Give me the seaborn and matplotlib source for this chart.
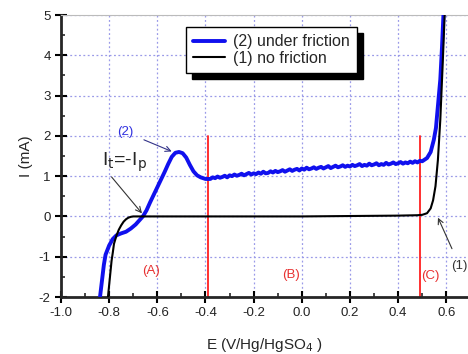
import numpy as np
import pandas as pd
import seaborn as sns
import matplotlib.pyplot as plt
from matplotlib.ticker import MultipleLocator, FormatStrFormatter

sns.set_style('ticks')
plt.rcParams['font.family'] = ['Liberation Sans', 'DejaVu Sans']
plt.rcParams['axes.unicode_minus'] = False

# curve (1): no friction
e_nofric = [-0.805, -0.80, -0.795, -0.79, -0.785, -0.78, -0.77, -0.76, -0.75, -0.74,
            -0.73, -0.72, -0.71, -0.70, -0.65, -0.5, -0.3, 0.0, 0.2, 0.4,
            0.48, 0.50, 0.52, 0.535, 0.545, 0.555, 0.565, 0.575, 0.585, 0.593, 0.596]
i_nofric = [-2.0, -1.7, -1.4, -1.1, -0.9, -0.68, -0.48, -0.33, -0.22, -0.13,
            -0.07, -0.03, -0.01, 0.0, 0.0, 0.0, 0.0, 0.0, 0.01, 0.02,
            0.03, 0.04, 0.08, 0.2, 0.4, 0.75, 1.4, 2.4, 3.8, 5.0, 5.3]

# curve (2): under friction (noisy plateau read point by point)
e_fric = [-0.838, -0.83, -0.822, -0.815, -0.80, -0.785, -0.77, -0.75, -0.73, -0.71,
          -0.69, -0.675, -0.66, -0.645, -0.63, -0.61, -0.59, -0.57, -0.555, -0.54,
          -0.525, -0.51, -0.495, -0.48, -0.465, -0.45, -0.435, -0.42, -0.40,
          -0.38, -0.37, -0.36, -0.35, -0.34, -0.33, -0.32, -0.31, -0.30, -0.29,
          -0.28, -0.27, -0.26, -0.25, -0.24, -0.23, -0.22, -0.21, -0.20, -0.19,
          -0.18, -0.17, -0.16, -0.15, -0.14, -0.13, -0.12, -0.11, -0.10, -0.09,
          -0.08, -0.07, -0.06, -0.05, -0.04, -0.03, -0.02, -0.01, 0.00, 0.01,
          0.02, 0.03, 0.04, 0.05, 0.06, 0.07, 0.08, 0.09, 0.10, 0.11,
          0.12, 0.13, 0.14, 0.15, 0.16, 0.17, 0.18, 0.19, 0.20, 0.21,
          0.22, 0.23, 0.24, 0.25, 0.26, 0.27, 0.28, 0.29, 0.30, 0.31,
          0.32, 0.33, 0.34, 0.35, 0.36, 0.37, 0.38, 0.39, 0.40, 0.41,
          0.42, 0.43, 0.44, 0.45, 0.46, 0.47, 0.48, 0.49, 0.50,
          0.52, 0.535, 0.548, 0.557, 0.566, 0.575, 0.582, 0.588, 0.591]
i_fric = [-2.0, -1.6, -1.2, -0.95, -0.72, -0.56, -0.47, -0.42, -0.38, -0.3,
          -0.2, -0.1, 0.0, 0.15, 0.35, 0.6, 0.85, 1.1, 1.3, 1.48,
          1.58, 1.6, 1.57, 1.46, 1.28, 1.12, 1.02, 0.97, 0.93,
          0.93, 0.97, 0.95, 0.99, 0.96, 0.98, 1.01, 0.97, 1.02, 1.00,
          1.04, 1.01, 1.03, 1.06, 1.02, 1.05, 1.08, 1.04, 1.07, 1.05,
          1.09, 1.06, 1.11, 1.07, 1.08, 1.12, 1.09, 1.13, 1.10, 1.12,
          1.15, 1.11, 1.14, 1.17, 1.13, 1.16, 1.18, 1.14, 1.19, 1.16,
          1.21, 1.17, 1.19, 1.22, 1.18, 1.21, 1.23, 1.19, 1.22, 1.25,
          1.20, 1.23, 1.26, 1.22, 1.24, 1.27, 1.23, 1.26, 1.24, 1.28,
          1.25, 1.27, 1.30, 1.25, 1.28, 1.26, 1.31, 1.27, 1.29, 1.32,
          1.27, 1.30, 1.28, 1.33, 1.29, 1.31, 1.34, 1.30, 1.32, 1.35,
          1.31, 1.34, 1.32, 1.36, 1.33, 1.37, 1.34, 1.38, 1.37,
          1.45, 1.6, 1.9, 2.2, 2.8, 3.4, 4.2, 5.0, 5.3]

region_lines = [-0.39, 0.49]
region_labels = ['(A)', '(B)', '(C)']
region_label_x = [-0.625, -0.045, 0.535]
region_label_y = [-1.35, -1.45, -1.47]

df1 = pd.DataFrame({'E': e_nofric, 'I': i_nofric})
df2 = pd.DataFrame({'E': e_fric, 'I': i_fric})

fig = plt.figure(figsize=(4.68, 3.54), dpi=100)
ax = fig.add_axes([61/468, 57/354, 407/468, 282/354])

sns.lineplot(data=df2, x='E', y='I', sort=False, estimator=None, color='#1010ee',
             lw=2.8, ax=ax, label='(2) under friction', zorder=3)
sns.lineplot(data=df1, x='E', y='I', sort=False, estimator=None, color='black',
             lw=1.5, ax=ax, label='(1) no friction', zorder=4)

for xv in region_lines:
    ax.plot([xv, xv], [-2, 2], color='#ff2020', lw=1.3, zorder=2)
for lab, xx, yy in zip(region_labels, region_label_x, region_label_y):
    ax.text(xx, yy, lab, color='#e83030', fontsize=9.5, ha='center', va='center')

ax.set_xlim(-1.0, 0.69)
ax.set_ylim(-2, 5)
ax.xaxis.set_major_locator(MultipleLocator(0.2))
ax.xaxis.set_minor_locator(MultipleLocator(0.1))
ax.xaxis.set_major_formatter(FormatStrFormatter('%.1f'))
ax.yaxis.set_major_locator(MultipleLocator(1))
ax.yaxis.set_minor_locator(MultipleLocator(0.5))
ax.tick_params(which='major', direction='inout', length=8, width=1.5, labelsize=9.5,
               colors='black', labelcolor='#222222')
ax.tick_params(which='minor', direction='in', length=3, width=1.2)
ax.grid(True, which='major', color='#9a9ae8', linestyle=(0, (1.5, 2)), lw=0.9)

for s in ['left', 'bottom']:
    ax.spines[s].set_linewidth(2)
ax.spines['right'].set_visible(False)
ax.spines['top'].set_color('#bbbbbb')
ax.spines['top'].set_linewidth(0.8)

ax.set_xlabel('E (V/Hg/HgSO$_4$ )', fontsize=11, labelpad=12)
ax.set_ylabel('I (mA)', fontsize=11, labelpad=4)

# annotations
ax.annotate('(2)', xy=(-0.535, 1.6), xytext=(-0.735, 2.1), color='#3030e0', fontsize=9.5,
            ha='center', va='center',
            arrowprops=dict(arrowstyle='->', color='#333388', lw=0.8, shrinkA=6, shrinkB=1))
ax.annotate('', xy=(-0.66, 0.05), xytext=(-0.79, 0.98),
            arrowprops=dict(arrowstyle='->', color='#333333', lw=0.8, shrinkA=0, shrinkB=1))
ax.text(-0.83, 1.35, r'I$_{\mathrm{t}}$=-I$_{\mathrm{p}}$', fontsize=14, ha='left', va='center')
ax.annotate('(1)', xy=(0.563, 0.0), xytext=(0.655, -1.22), color='#333333', fontsize=9.5,
            ha='center', va='center',
            arrowprops=dict(arrowstyle='->', color='#333333', lw=0.8, shrinkA=6, shrinkB=1))

leg = ax.legend(loc='upper left', bbox_to_anchor=(0.307, 0.957), borderaxespad=0,
                fontsize=11.5, frameon=True, fancybox=False, edgecolor='black',
                framealpha=1, handlelength=2.0, handletextpad=0.5, borderpad=0.45,
                labelspacing=0.1,
                shadow={'color': 'black', 'alpha': 1, 'ox': 4, 'oy': -4})
leg.get_frame().set_linewidth(1.0)
leg.set_zorder(10)

fig.savefig('out.png', dpi=100)
